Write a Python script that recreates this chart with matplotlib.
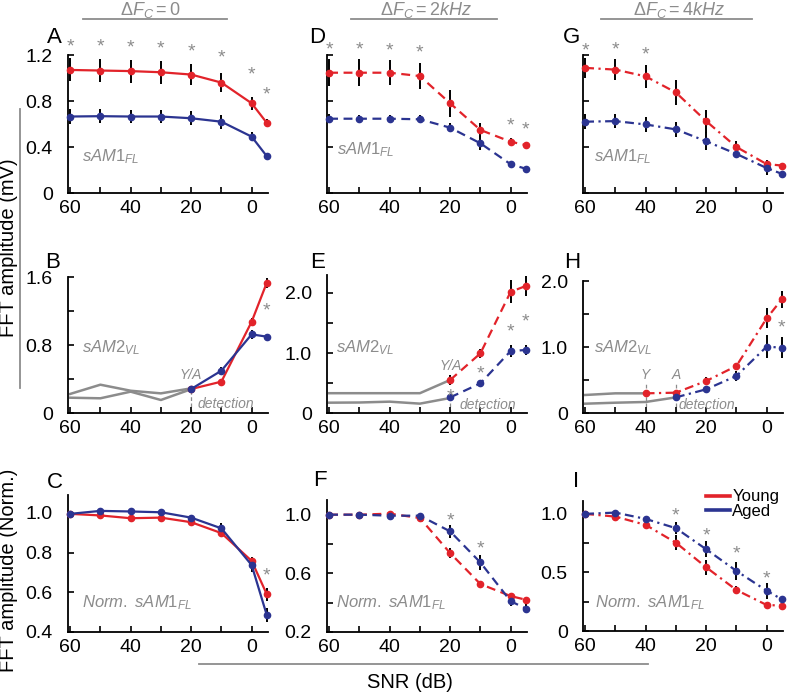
import matplotlib
matplotlib.use("Agg")
import matplotlib.pyplot as plt
from matplotlib.lines import Line2D

plt.rcParams["font.family"] = ["Liberation Sans", "DejaVu Sans"]
plt.rcParams["mathtext.fontset"] = "custom"
plt.rcParams["mathtext.rm"] = "Liberation Sans"
plt.rcParams["mathtext.it"] = "Liberation Sans:italic"

# ----- data -----
snr = [60, 50, 40, 30, 20, 10, 0, -5]
snr_hi = [20, 10, 0, -5]
noise_x = [60, 50, 40, 30, 20]

# row 1: sAM1_FL (mV)
A_young = [1.07, 1.065, 1.06, 1.05, 1.03, 0.96, 0.78, 0.61]
A_young_err = [0.10, 0.10, 0.10, 0.10, 0.09, 0.085, 0.055, 0.03]
A_aged = [0.665, 0.668, 0.665, 0.665, 0.65, 0.62, 0.49, 0.32]
A_aged_err = [0.064, 0.06, 0.06, 0.06, 0.06, 0.06, 0.04, 0.02]
A_star_x = [60, 50, 40, 30, 20, 10, 0, -5]
A_star_y = [1.318, 1.318, 1.313, 1.307, 1.275, 1.225, 1.079, 0.904]

D_young = [1.046, 1.046, 1.046, 1.017, 0.78, 0.548, 0.446, 0.417]
D_young_err = [0.115, 0.115, 0.11, 0.115, 0.12, 0.065, 0.03, 0.02]
D_aged = [0.646, 0.646, 0.646, 0.641, 0.568, 0.432, 0.25, 0.211]
D_aged_err = [0.04, 0.035, 0.035, 0.035, 0.04, 0.06, 0.03, 0.02]
D_star_x = [60, 50, 40, 30, 0, -5]
D_star_y = [1.293, 1.293, 1.287, 1.267, 0.632, 0.598]

G_young = [1.088, 1.073, 1.014, 0.874, 0.625, 0.40, 0.251, 0.239]
G_young_err = [0.09, 0.09, 0.10, 0.105, 0.10, 0.05, 0.035, 0.02]
G_aged = [0.62, 0.625, 0.596, 0.553, 0.45, 0.34, 0.217, 0.167]
G_aged_err = [0.065, 0.06, 0.067, 0.064, 0.08, 0.025, 0.063, 0.02]
G_star_x = [60, 50, 40]
G_star_y = [1.283, 1.292, 1.248]

# row 2: sAM2_VL (mV)
B_young = [0.282, 0.369, 1.074, 1.533]
B_young_err = [0.02, 0.02, 0.04, 0.06]
B_aged = [0.282, 0.498, 0.925, 0.898]
B_aged_err = [0.02, 0.045, 0.05, 0.03]
B_noise1 = [0.224, 0.333, 0.262, 0.231, 0.29]
B_noise2 = [0.18, 0.173, 0.251, 0.153, 0.28]
B_star_x = [-5]
B_star_y = [1.27]

E_young = [0.55, 0.994, 2.02, 2.117]
E_young_err = [0.08, 0.08, 0.19, 0.17]
E_aged = [0.26, 0.494, 1.033, 1.05]
E_aged_err = [0.03, 0.06, 0.10, 0.09]
E_noise1 = [0.33, 0.33, 0.33, 0.33, 0.55]
E_noise2 = [0.172, 0.175, 0.189, 0.156, 0.25]
E_star_x = [20, 10, 0, -5]
E_star_y = [0.372, 0.755, 1.45, 1.62]

H_young_x = [40, 30, 20, 10, 0, -5]
H_young = [0.298, 0.308, 0.485, 0.712, 1.434, 1.722]
H_young_err = [0.03, 0.03, 0.06, 0.05, 0.15, 0.13]
H_aged_x = [30, 20, 10, 0, -5]
H_aged = [0.237, 0.359, 0.561, 1.005, 0.99]
H_aged_err = [0.03, 0.04, 0.08, 0.17, 0.16]
H_noise1_x = [60, 50, 40]
H_noise1 = [0.273, 0.298, 0.298]
H_noise2_x = [60, 50, 40, 30]
H_noise2 = [0.141, 0.156, 0.167, 0.237]
H_star_x = [-5]
H_star_y = [1.38]

# row 3: normalised sAM1_FL
C_young = [0.995, 0.987, 0.973, 0.976, 0.953, 0.898, 0.758, 0.59]
C_young_err = [0.01, 0.01, 0.01, 0.01, 0.012, 0.015, 0.02, 0.034]
C_aged = [0.995, 1.01, 1.007, 1.003, 0.976, 0.922, 0.737, 0.485]
C_aged_err = [0.01, 0.012, 0.012, 0.012, 0.015, 0.025, 0.034, 0.034]
C_star_x = [-5]
C_star_y = [0.713]

F_young = [1.0, 1.0, 1.007, 0.977, 0.738, 0.527, 0.445, 0.42]
F_young_err = [0.005, 0.01, 0.01, 0.01, 0.034, 0.02, 0.02, 0.015]
F_aged = [1.0, 1.0, 0.993, 0.993, 0.886, 0.674, 0.41, 0.36]
F_aged_err = [0.005, 0.01, 0.01, 0.01, 0.046, 0.054, 0.034, 0.03]
F_star_x = [20, 10]
F_star_y = [1.0, 0.808]

I_young = [1.0, 0.977, 0.906, 0.754, 0.544, 0.35, 0.222, 0.217]
I_young_err = [0.005, 0.01, 0.03, 0.064, 0.064, 0.03, 0.015, 0.015]
I_aged = [1.0, 1.011, 0.957, 0.878, 0.698, 0.513, 0.344, 0.271]
I_aged_err = [0.005, 0.01, 0.02, 0.053, 0.067, 0.078, 0.07, 0.03]
I_star_x = [30, 20, 10, 0]
I_star_y = [1.034, 0.863, 0.707, 0.498]

x_ticks = [60, 50, 40, 30, 20, 10, 0]
x_ticklabels = ["60", "", "40", "", "20", "", "0"]

RED = "#e2232a"
BLUE = "#2b3491"
GRAY = "#8c8c8c"
W, H = 787, 694

fig = plt.figure(figsize=(W / 100, H / 100), dpi=100)


def px_axes(left, top, right, bottom):
    return fig.add_axes([left / W, 1 - bottom / H, (right - left) / W, (bottom - top) / H])


def style(ax, ylim, yticks, yticklabels):
    ax.set_xlim(60.7, -5.4)
    ax.set_ylim(*ylim)
    for s in ("top", "right"):
        ax.spines[s].set_visible(False)
    for s in ("left", "bottom"):
        ax.spines[s].set_linewidth(1.3)
    ax.set_xticks(x_ticks)
    ax.set_xticklabels(x_ticklabels)
    ax.set_yticks(yticks)
    ax.set_yticklabels(yticklabels)
    ax.tick_params(direction="in", length=4, width=1.2, labelsize=14)
    ax.tick_params(axis="y", pad=11)
    ax.tick_params(axis="x", pad=5)


def series(ax, x, y, err, color, dashes):
    ax.errorbar(x, y, yerr=err, fmt="none", ecolor="black", elinewidth=1.4, capsize=0, zorder=2)
    ln, = ax.plot(x, y, color=color, lw=1.6, marker="o", ms=4.5, zorder=3, clip_on=False)
    if dashes is not None:
        ln.set_dashes(dashes)


def stars(ax, xs, ys):
    for x, y in zip(xs, ys):
        ax.annotate("*", (x, y), xytext=(0, -7.5), textcoords="offset points",
                    ha="center", va="baseline", color=GRAY, fontsize=14,
                    annotation_clip=False)


def label(ax, x, y, s):
    ax.text(x, y, s, color=GRAY, fontsize=12, va="center", ha="left")


def noise(ax, x, y):
    ax.plot(x, y, color=GRAY, lw=1.8, zorder=1)


def detect(ax, x, y0, y1):
    ax.plot([x, x], [y0, y1], color=GRAY, lw=0.9, ls=(0, (3, 2)), zorder=1)


dash = (4, 2.5)
dashdot = (4, 2, 1, 2)
cols = [(68, 268), (327, 527), (583, 783)]

# row 1
axA = px_axes(cols[0][0], 55, cols[0][1], 193)
style(axA, (0, 1.2), [0, 0.4, 0.8, 1.2], ["0", "0.4", "0.8", "1.2"])
series(axA, snr, A_young, A_young_err, RED, None)
series(axA, snr, A_aged, A_aged_err, BLUE, None)
stars(axA, A_star_x, A_star_y)
label(axA, 56, 0.32, r"$\mathit{sAM1_{FL}}$")

axD = px_axes(cols[1][0], 55, cols[1][1], 193)
style(axD, (0, 1.2), [0, 0.4, 0.8, 1.2], ["", "", "", ""])
series(axD, snr, D_young, D_young_err, RED, dash)
series(axD, snr, D_aged, D_aged_err, BLUE, dash)
stars(axD, D_star_x, D_star_y)
label(axD, 57.5, 0.38, r"$\mathit{sAM1_{FL}}$")

axG = px_axes(cols[2][0], 55, cols[2][1], 193)
style(axG, (0, 1.2), [0, 0.4, 0.8, 1.2], ["", "", "", ""])
series(axG, snr, G_young, G_young_err, RED, dashdot)
series(axG, snr, G_aged, G_aged_err, BLUE, dashdot)
stars(axG, G_star_x, G_star_y)
label(axG, 57, 0.32, r"$\mathit{sAM1_{FL}}$")

# row 2
axB = px_axes(cols[0][0], 277, cols[0][1], 413)
style(axB, (0, 1.6), [0, 0.4, 0.8, 1.2, 1.6], ["0", "", "0.8", "", "1.6"])
noise(axB, noise_x, B_noise1)
noise(axB, noise_x, B_noise2)
detect(axB, 20, 0, 0.28)
series(axB, snr_hi, B_young, B_young_err, RED, None)
series(axB, snr_hi, B_aged, B_aged_err, BLUE, None)
stars(axB, B_star_x, B_star_y)
label(axB, 56, 0.77, r"$\mathit{sAM2_{VL}}$")
axB.text(20, 0.45, "Y/A", color=GRAY, fontsize=10, style="italic", ha="center", va="center")
axB.text(18, 0.1, "detection", color=GRAY, fontsize=10, style="italic", ha="left", va="center")

axE = px_axes(cols[1][0], 275, cols[1][1], 413)
style(axE, (0, 2.3), [0, 0.5, 1.0, 1.5, 2.0], ["0", "", "1.0", "", "2.0"])
noise(axE, noise_x, E_noise1)
noise(axE, noise_x, E_noise2)
detect(axE, 20, 0, 0.26)
series(axE, snr_hi, E_young, E_young_err, RED, dash)
series(axE, snr_hi, E_aged, E_aged_err, BLUE, dash)
stars(axE, E_star_x, E_star_y)
label(axE, 57.7, 1.09, r"$\mathit{sAM2_{VL}}$")
axE.text(19.7, 0.78, "Y/A", color=GRAY, fontsize=10, style="italic", ha="center", va="center")
axE.text(17, 0.13, "detection", color=GRAY, fontsize=10, style="italic", ha="left", va="center")

axH = px_axes(cols[2][0], 281, cols[2][1], 413)
style(axH, (0, 2.0), [0, 0.5, 1.0, 1.5, 2.0], ["0", "", "1.0", "", "2.0"])
noise(axH, H_noise1_x, H_noise1)
noise(axH, H_noise2_x, H_noise2)
detect(axH, 40, 0, 0.47)
detect(axH, 30, 0, 0.47)
series(axH, H_young_x, H_young, H_young_err, RED, dashdot)
series(axH, H_aged_x, H_aged, H_aged_err, BLUE, dashdot)
stars(axH, H_star_x, H_star_y)
label(axH, 57, 0.985, r"$\mathit{sAM2_{VL}}$")
axH.text(40, 0.58, "Y", color=GRAY, fontsize=10, style="italic", ha="center", va="center")
axH.text(30, 0.58, "A", color=GRAY, fontsize=10, style="italic", ha="center", va="center")
axH.text(29, 0.12, "detection", color=GRAY, fontsize=10, style="italic", ha="left", va="center")

# row 3
axC = px_axes(cols[0][0], 495, cols[0][1], 632)
style(axC, (0.4, 1.09), [0.4, 0.6, 0.8, 1.0], ["0.4", "0.6", "0.8", "1.0"])
series(axC, snr, C_young, C_young_err, RED, None)
series(axC, snr, C_aged, C_aged_err, BLUE, None)
stars(axC, C_star_x, C_star_y)
label(axC, 56, 0.546, r"$\mathit{Norm.\ sAM1_{FL}}$")

axF = px_axes(cols[1][0], 500, cols[1][1], 632)
style(axF, (0.2, 1.1), [0.2, 0.4, 0.6, 0.8, 1.0], ["0.2", "", "0.6", "", "1.0"])
series(axF, snr, F_young, F_young_err, RED, dash)
series(axF, snr, F_aged, F_aged_err, BLUE, dash)
stars(axF, F_star_x, F_star_y)
label(axF, 57.7, 0.4, r"$\mathit{Norm.\ sAM1_{FL}}$")

axI = px_axes(cols[2][0], 501, cols[2][1], 631)
style(axI, (0, 1.11), [0, 0.25, 0.5, 0.75, 1.0], ["0", "", "0.5", "", "1.0"])
series(axI, snr, I_young, I_young_err, RED, dashdot)
series(axI, snr, I_aged, I_aged_err, BLUE, dashdot)
stars(axI, I_star_x, I_star_y)
label(axI, 56.6, 0.24, r"$\mathit{Norm.\ sAM1_{FL}}$")

handles = [Line2D([], [], color=RED, lw=2.6), Line2D([], [], color=BLUE, lw=2.6)]
fig.legend(handles, ["Young", "Aged"], loc="upper left",
           bbox_to_anchor=(698 / W, 1 - 481 / H), frameon=False, fontsize=12,
           handlelength=1.4, handletextpad=0.15, labelspacing=0.0, borderpad=0)

# panel letters
letters = [("A", 47, 43), ("B", 45, 268), ("C", 47, 488),
           ("D", 309, 43), ("E", 310, 268), ("F", 313, 486),
           ("G", 563, 43), ("H", 564, 268), ("I", 573, 487)]
for s, x, y in letters:
    fig.text(x / W, 1 - y / H, s, fontsize=16, ha="left", va="baseline")

# column headers
headers = [(r"$\mathit{\Delta F_C = 0}$", 150, 83, 227),
           (r"$\mathit{\Delta F_C = 2kHz}$", 426, 351, 497),
           (r"$\mathit{\Delta F_C = 4kHz}$", 679, 601, 752)]
for s, xc, x0, x1 in headers:
    fig.text(xc / W, 1 - 10 / H, s, fontsize=13, color=GRAY, ha="center", va="center")
    fig.add_artist(Line2D([x0 / W, x1 / W], [1 - 19 / H, 1 - 19 / H], color=GRAY, lw=1.3))

# shared axis labels
fig.text(9 / W, 1 - 248 / H, "FFT amplitude (mV)", rotation=90, fontsize=14.5, ha="center", va="center")
fig.add_artist(Line2D([20 / W, 20 / W], [1 - 109 / H, 1 - 388 / H], color=GRAY, lw=1.3))
fig.text(9 / W, 1 - 570 / H, "FFT amplitude (Norm.)", rotation=90, fontsize=14.5, ha="center", va="center")
fig.text(410 / W, 1 - 683 / H, "SNR (dB)", fontsize=14.5, ha="center", va="center")
fig.add_artist(Line2D([199 / W, 648 / W], [1 - 664 / H, 1 - 664 / H], color=GRAY, lw=1.3))

fig.savefig("out.png", dpi=100)
